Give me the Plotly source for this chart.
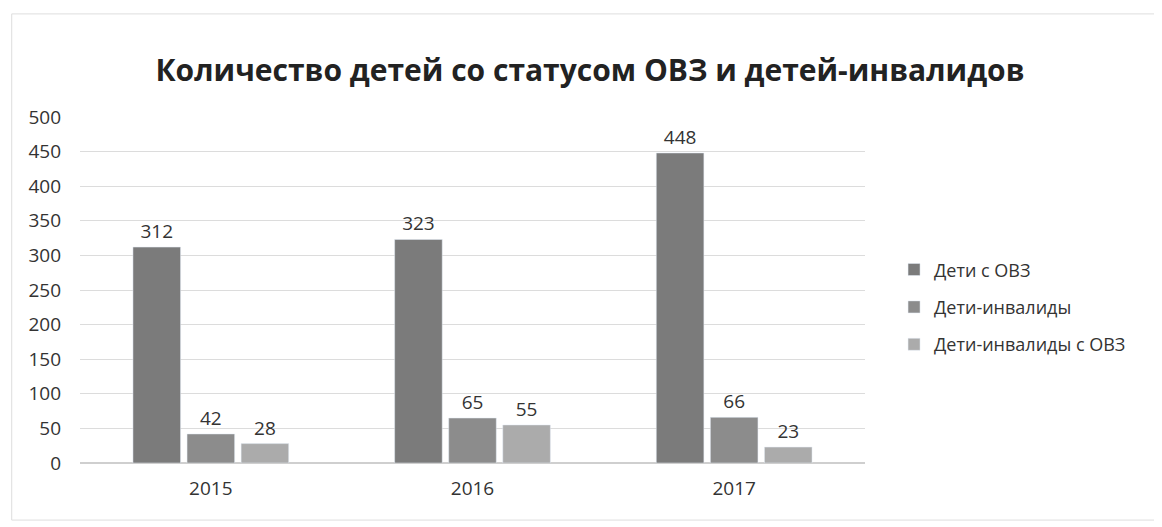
import plotly.graph_objects as go

years = ["2015", "2016", "2017"]
series_names = ["Дети с ОВЗ", "Дети-инвалиды", "Дети-инвалиды с ОВЗ"]
ovz = [312, 323, 448]
invalid = [42, 65, 66]
invalid_ovz = [28, 55, 23]
colors = ["#7b7b7b", "#8c8c8c", "#ababab"]

fig = go.Figure()
for i, (name, vals) in enumerate(zip(series_names, [ovz, invalid, invalid_ovz])):
    fig.add_trace(go.Bar(
        x=years, y=vals, name=name, marker_color=colors[i],
        text=vals, textposition="outside",
        textfont=dict(size=19, color="#333333"),
        cliponaxis=False, legendgroup=f"g{i}",
    ))

L, R, T, B = 72, 305, 109, 72
font_family = "Open Sans, Liberation Sans, sans-serif"
fig.update_layout(
    width=1162, height=527,
    margin=dict(l=L, r=R, t=T, b=B, autoexpand=False),
    paper_bgcolor="white", plot_bgcolor="white",
    font=dict(family=font_family, color="#333333", size=19),
    title=dict(text="<b>Количество детей со статусом ОВЗ и детей-инвалидов</b>",
               x=582/1162, xanchor="center", y=1 - 62/527, yanchor="middle",
               font=dict(size=30, color="#222222")),
    barmode="group", bargap=0.38, bargroupgap=0.12,
    legend=dict(x=1.037, y=0.45, xanchor="left", yanchor="middle",
                font=dict(size=18, color="#333333"), tracegroupgap=11,
                itemwidth=30),
    showlegend=True,
)
fig.update_yaxes(range=[0, 500], dtick=50, showgrid=True, gridcolor="#dcdcdc",
                 zeroline=True, zerolinecolor="#cfcfcf", tickfont=dict(size=19),
                 ticks="", ticklabelstandoff=18)
fig.update_xaxes(showgrid=False, tickfont=dict(size=19), ticklabelstandoff=12)
fig.add_shape(type="rect", xref="paper", yref="paper", x0=-0.087, x1=1.5, y0=-0.165, y1=1.298,
              line=dict(color="#dedede", width=1))
fig.write_html("out.html")
